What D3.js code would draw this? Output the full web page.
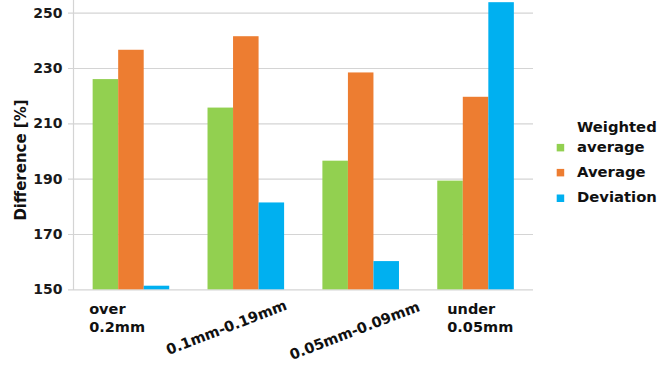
<!DOCTYPE html>
<html>
<head>
<meta charset="utf-8">
<script src="https://cdn.jsdelivr.net/npm/d3@7"></script>
<style>
  html, body { margin: 0; padding: 0; background: #fff; }
  svg { display: block; font-family: "DejaVu Sans", sans-serif; font-weight: bold; }
</style>
</head>
<body>
<svg id="chart" width="672" height="367"></svg>
<script>
// ---- data ----
const categories = ["over 0.2mm", "0.1mm-0.19mm", "0.05mm-0.09mm", "under 0.05mm"];
const seriesNames = ["Weighted average", "Average", "Deviation"];
const weightedAverage = [226.0, 215.7, 196.5, 189.3];
const average = [236.6, 241.5, 228.4, 219.6];
const deviation = [151.3, 181.4, 160.2, 253.8];
const yTicks = [150, 170, 190, 210, 230, 250];

// ---- style / layout ----
const colors = ["#92D050", "#ED7D31", "#00B0F0"];
const plot = { left: 73.5, right: 533, top: 12.7, bottom: 289.3 };

const svg = d3.select("#chart");
const x0 = d3.scaleBand().domain(categories).range([plot.left, plot.right])
  .paddingInner(1/3).paddingOuter(1/6);
const x1 = d3.scaleBand().domain(seriesNames).range([0, x0.bandwidth()]);
const y = d3.scaleLinear().domain([150, 250]).range([plot.bottom, plot.top]);

// gridlines
const yAxis = d3.axisLeft(y).tickValues(yTicks).tickSize(-(plot.right - plot.left)).tickPadding(11);
const gy = svg.append("g").attr("transform", `translate(${plot.left},0)`).call(yAxis);
gy.select(".domain").remove();
gy.selectAll(".tick line").attr("stroke", "#d4d4d4").attr("stroke-width", 1.2).attr("x1", -5.5);
gy.selectAll(".tick text").attr("fill", "#1a1a1a").attr("font-size", 14)
  .attr("font-weight", "bold").attr("font-family", "DejaVu Sans, sans-serif");

// vertical axis line
svg.append("line").attr("x1", plot.left).attr("x2", plot.left)
  .attr("y1", 0).attr("y2", plot.bottom + 0.6)
  .attr("stroke", "#d4d4d4").attr("stroke-width", 1.2);

// bars
const series = [weightedAverage, average, deviation];
const groups = svg.append("g").selectAll("g").data(categories).join("g")
  .attr("transform", d => `translate(${x0(d)},0)`);
groups.selectAll("rect").data((c, i) => seriesNames.map((s, k) => ({ s, v: series[k][i], k })))
  .join("rect")
  .attr("x", d => x1(d.s))
  .attr("width", x1.bandwidth())
  .attr("y", d => y(d.v))
  .attr("height", d => y(150) - y(d.v))
  .attr("fill", d => colors[d.k]);

// x labels (offsets relative to the group's first bar)
const labelLayout = [
  { type: "lines", lines: ["over", "0.2mm"], dx: -3.5, y: 313.5 },
  { type: "rot", text: "0.1mm-0.19mm", dx: -39, y: 355 },
  { type: "rot", text: "0.05mm-0.09mm", dx: -30.5, y: 360 },
  { type: "lines", lines: ["under", "0.05mm"], dx: 10, y: 313.5 }
];
categories.forEach((c, i) => {
  const L = labelLayout[i];
  if (L.type === "lines") {
    const t = svg.append("text").attr("font-size", 14.5).attr("fill", "#111");
    L.lines.forEach((ln, j) => {
      t.append("tspan").attr("x", x0(c) + L.dx).attr("y", L.y + j * 18.5).text(ln);
    });
  } else {
    const px = x0(c) + L.dx;
    svg.append("text").attr("font-size", 14.5).attr("fill", "#111")
      .attr("transform", `translate(${px},${L.y}) rotate(-21)`)
      .text(L.text);
  }
});

// y title
svg.append("text").attr("font-size", 15).attr("fill", "#111")
  .attr("text-anchor", "middle")
  .attr("transform", "translate(26,160) rotate(-90)")
  .text("Difference [%]");

// legend
const legendRows = [
  { lines: ["Weighted", "average"], base: 151.7 },
  { lines: ["Average"], base: 176.7 },
  { lines: ["Deviation"], base: 202.3 }
];
legendRows.forEach((r, i) => {
  svg.append("rect").attr("x", 556.7).attr("y", r.base - 7.8).attr("width", 7.5).attr("height", 7.5)
    .attr("fill", colors[i]);
  const t = svg.append("text").attr("font-size", 14.8).attr("fill", "#111");
  r.lines.forEach((ln, j) => {
    t.append("tspan").attr("x", 577).attr("y", r.base - (r.lines.length - 1 - j) * 19.4).text(ln);
  });
});
</script>
</body>
</html>
